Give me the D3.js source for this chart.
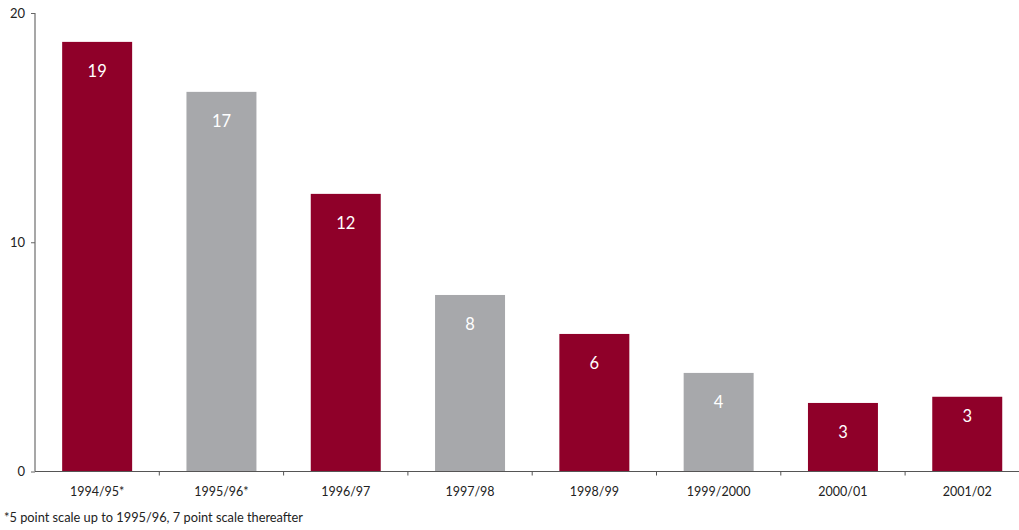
<!DOCTYPE html>
<html>
<head>
<meta charset="utf-8">
<script src="https://cdn.jsdelivr.net/npm/d3@7"></script>
<style>
body { margin: 0; background: #fff; }
text { font-family: Lato, "Open Sans", sans-serif; }
</style>
</head>
<body>
<svg id="chart" width="1019" height="530"></svg>
<script>
var categories = ["1994/95*", "1995/96*", "1996/97", "1997/98", "1998/99", "1999/2000", "2000/01", "2001/02"];
var values = [18.74, 16.56, 12.11, 7.70, 6.0, 4.30, 2.99, 3.26];
var labels = ["19", "17", "12", "8", "6", "4", "3", "3"];
var labelPos = ["end", "end", "end", "end", "end", "end", "end", "near"];
var barColors = ["#8f0029", "#a7a8ab", "#8f0029", "#a7a8ab", "#8f0029", "#a7a8ab", "#8f0029", "#8f0029"];
var yTicks = [0, 10, 20];
var footnote = "*5 point scale up to 1995/96, 7 point scale thereafter";

var svg = d3.select('#chart');
var x0 = 35, y0 = 471.5, y1 = 13;

var x = d3.scaleBand()
    .domain(categories)
    .range([x0, x0 + 8 * 124.3])
    .paddingInner(0.437)
    .paddingOuter(0.2185);

var y = d3.scaleLinear().domain([0, 20]).range([y0, y1]);

// bars
svg.selectAll(".bar")
    .data(values)
    .enter().append("rect")
    .attr("class", "bar")
    .attr("x", function (d, i) { return x(categories[i]); })
    .attr("y", function (d) { return y(d); })
    .attr("width", x.bandwidth())
    .attr("height", function (d) { return y0 - y(d); })
    .attr("fill", function (d, i) { return barColors[i]; });

svg.selectAll(".val")
    .data(values)
    .enter().append("text")
    .attr("class", "val")
    .attr("x", function (d, i) { return x(categories[i]) + x.bandwidth() / 2; })
    .attr("y", function (d, i) { return y(d) + (labelPos[i] === "near" ? 19 : 29); })
    .attr("dy", "0.35em")
    .attr("text-anchor", "middle")
    .attr("fill", "#fff")
    .style("font-size", "16.5px")
    .text(function (d, i) { return labels[i]; });

// y axis
var yAxis = d3.axisLeft(y).tickValues(yTicks).tickSize(4).tickPadding(6);
var gy = svg.append("g").attr("transform", "translate(" + x0 + ",0)").call(yAxis);
gy.select(".domain").attr("stroke", "#8a8a8a").attr("stroke-width", 1.5).attr("d", "M0," + y1 + "V" + y0);
gy.selectAll(".tick line").attr("stroke", "#666");
gy.selectAll(".tick text").style("font-size", "13px").attr("fill", "#222").style("font-family", "Lato, sans-serif");

// x axis
var gx = svg.append("g").attr("transform", "translate(0," + y0 + ")");
gx.append("line")
    .attr("x1", x0).attr("x2", 1019)
    .attr("stroke", "#555").attr("stroke-width", 1.2);
var bounds = categories.slice(1).map(function (c) { return x(c) - x.step() * x.paddingInner() / 2; });
gx.selectAll(".sep")
    .data(bounds)
    .enter().append("line")
    .attr("x1", function (d) { return d; })
    .attr("x2", function (d) { return d; })
    .attr("y1", 0).attr("y2", 4)
    .attr("stroke", "#555");
gx.selectAll(".cat")
    .data(categories)
    .enter().append("text")
    .attr("x", function (d) { return x(d) + x.bandwidth() / 2; })
    .attr("y", 20)
    .attr("dy", "0.35em")
    .attr("text-anchor", "middle")
    .attr("fill", "#222")
    .style("font-size", "12.5px")
    .text(function (d) { return d; });

svg.append("text")
    .attr("x", 4)
    .attr("y", 518)
    .attr("dy", "0.35em")
    .attr("fill", "#222")
    .style("font-size", "12.8px")
    .text(footnote);
</script>
</body>
</html>
